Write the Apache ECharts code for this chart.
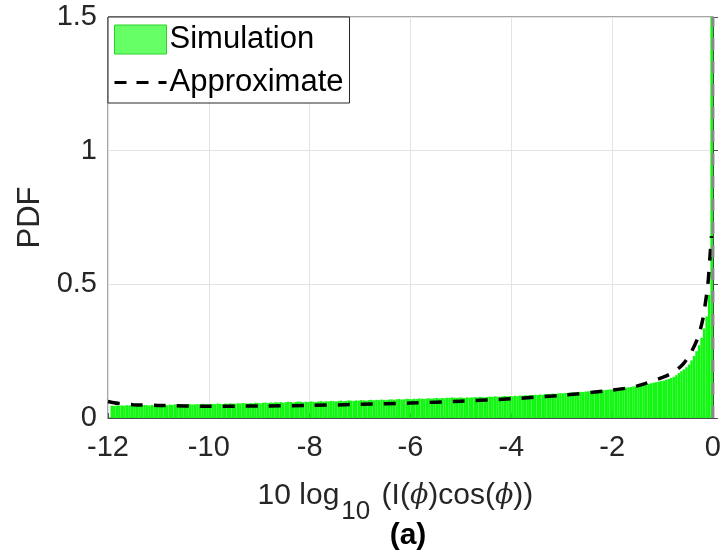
<!DOCTYPE html>
<html>
<head>
<meta charset="utf-8">
<script src="https://cdn.jsdelivr.net/npm/echarts@6/dist/echarts.min.js"></script>
<style>html,body{margin:0;padding:0;background:#fff}#c{width:724px;height:556px}</style>
</head>
<body>
<div id="c"></div>
<script>
// Histogram: bins of width 0.05 from -12 to 0
var binStart = -12;
var binWidth = 0.05;
var simValues = [
  0, 0.046, 0.045, 0.047, 0.046, 0.047, 0.046, 0.048, 0.047, 0.046, 0.048, 0.047, 0.048, 0.047, 0.049, 0.048, 0.047, 0.049, 0.048, 0.049,
  0.048, 0.050, 0.049, 0.048, 0.050, 0.049, 0.051, 0.050, 0.049, 0.051, 0.050, 0.051, 0.052, 0.050, 0.051, 0.052, 0.051, 0.053, 0.052, 0.051,
  0.052, 0.053, 0.052, 0.054, 0.053, 0.052, 0.054, 0.053, 0.055, 0.054, 0.053, 0.055, 0.054, 0.056, 0.055, 0.054, 0.056, 0.055, 0.057, 0.056,
  0.055, 0.057, 0.058, 0.056, 0.058, 0.057, 0.059, 0.058, 0.060, 0.057, 0.059, 0.061, 0.060, 0.058, 0.060, 0.062, 0.061, 0.059, 0.061, 0.060,
  0.062, 0.061, 0.060, 0.062, 0.063, 0.061, 0.063, 0.062, 0.064, 0.063, 0.062, 0.064, 0.065, 0.063, 0.064, 0.066, 0.065, 0.064, 0.066, 0.065,
  0.067, 0.066, 0.065, 0.067, 0.068, 0.066, 0.068, 0.067, 0.069, 0.068, 0.067, 0.069, 0.070, 0.068, 0.070, 0.071, 0.069, 0.070, 0.072, 0.071,
  0.070, 0.072, 0.071, 0.073, 0.072, 0.071, 0.073, 0.074, 0.072, 0.074, 0.075, 0.073, 0.075, 0.074, 0.076, 0.075, 0.077, 0.076, 0.075, 0.077,
  0.076, 0.075, 0.077, 0.076, 0.077, 0.078, 0.077, 0.079, 0.078, 0.077, 0.079, 0.080, 0.079, 0.081, 0.080, 0.079, 0.081, 0.082, 0.081, 0.082,
  0.081, 0.083, 0.082, 0.084, 0.083, 0.085, 0.084, 0.086, 0.085, 0.087, 0.086, 0.088, 0.087, 0.089, 0.090, 0.089, 0.091, 0.090, 0.092, 0.093,
  0.092, 0.094, 0.093, 0.095, 0.096, 0.095, 0.097, 0.098, 0.097, 0.099, 0.100, 0.101, 0.100, 0.102, 0.103, 0.102, 0.104, 0.105, 0.106, 0.107,
  0.107, 0.109, 0.110, 0.111, 0.112, 0.114, 0.115, 0.116, 0.118, 0.119, 0.121, 0.123, 0.124, 0.126, 0.128, 0.130, 0.132, 0.134, 0.136, 0.138,
  0.140, 0.143, 0.146, 0.150, 0.154, 0.160, 0.168, 0.175, 0.182, 0.190, 0.200, 0.215, 0.232, 0.250, 0.272, 0.300, 0.335, 0.380, 0.460, 2.000
];
// Approximate curve
var approxX = [-12, -11.8, -11.5, -11, -10, -9, -8, -7, -6, -5, -4, -3, -2, -1.5, -1, -0.8, -0.6, -0.45, -0.3, -0.2, -0.15, -0.1, -0.06, -0.03];
var approxY = [0.062, 0.055, 0.050, 0.047, 0.044, 0.045, 0.047, 0.051, 0.056, 0.063, 0.072, 0.085, 0.104, 0.120, 0.152, 0.170, 0.200, 0.240, 0.300, 0.370, 0.430, 0.500, 0.600, 0.680];
// The approximate curve's vertical part at x = 0
var edgeX = [0, 0];
var edgeY = [0, 1.5];

var xTicks = [-12, -10, -8, -6, -4, -2, 0];
var yTicks = [0, 0.5, 1, 1.5];

var simData = simValues.map(function (v, i) { return [binStart + (i + 0.5) * binWidth, v]; });
var approxData = approxX.map(function (x, i) { return [x, approxY[i]]; });
var edgeData = edgeX.map(function (x, i) { return [x, edgeY[i]]; });

var FONT = 'Liberation Sans, Arial, Helvetica, sans-serif';
var chart = echarts.init(document.getElementById('c'), null, { renderer: 'canvas' });
chart.setOption({
  animation: false,
  backgroundColor: '#ffffff',
  grid: { left: 108, right: 10, top: 17, bottom: 138, show: true, borderColor: '#4d4d4d', borderWidth: 1, containLabel: false },
  title: {
    text: '(a)', left: 403, top: 516, textAlign: 'center',
    textStyle: { fontFamily: FONT, fontSize: 30, fontWeight: 'bold', color: '#000' }
  },
  legend: {
    orient: 'vertical', left: 108, top: 17,
    backgroundColor: '#fff', borderColor: '#262626', borderWidth: 1, borderRadius: 0,
    padding: [7, 6, 5, 5], itemGap: 12, itemWidth: 52, itemHeight: 29,
    textStyle: { fontFamily: FONT, fontSize: 31, color: '#000', padding: [0, 0, 0, -2] },
    data: [
      { name: 'Simulation', icon: 'rect', itemStyle: { color: '#66ff66', borderColor: '#2bd22b', borderWidth: 1 } },
      { name: 'Approximate', itemStyle: { opacity: 0 }, lineStyle: { color: '#000', width: 3, type: [12, 10] } }
    ]
  },
  xAxis: {
    type: 'value', min: -12, max: 0, interval: 2,
    name: '10 log{sub|10} (I({it|\u03d5})cos({it|\u03d5}))',
    nameLocation: 'middle', nameGap: 40,
    nameTextStyle: {
      fontFamily: FONT, fontSize: 30, color: '#262626', lineHeight: 36, padding: [0, 30, 0, 0],
      rich: {
        sub: { fontFamily: FONT, fontSize: 26, color: '#262626', verticalAlign: 'bottom', lineHeight: 58, padding: [0, 3, 0, 2] },
        it: { fontFamily: 'DejaVu Serif, serif', fontStyle: 'italic', fontSize: 27, color: '#262626' }
      }
    },
    axisLine: { show: true, lineStyle: { color: '#4d4d4d', width: 1 } },
    axisTick: { show: true, inside: true, length: 5, lineStyle: { color: '#4d4d4d' } },
    axisLabel: { fontFamily: FONT, fontSize: 29, color: '#262626', margin: 15,
      formatter: function (v) { return xTicks.indexOf(v) >= 0 ? String(v) : ''; } },
    splitLine: { show: true, lineStyle: { color: '#e3e3e3', width: 1 } }
  },
  yAxis: {
    type: 'value', min: 0, max: 1.5, interval: 0.5,
    name: 'PDF', nameLocation: 'middle', nameGap: 62,
    nameTextStyle: { fontFamily: FONT, fontSize: 31, color: '#262626' },
    axisLine: { show: true, lineStyle: { color: '#4d4d4d', width: 1 } },
    axisTick: { show: true, inside: true, length: 5, lineStyle: { color: '#4d4d4d' } },
    axisLabel: { fontFamily: FONT, fontSize: 29, color: '#262626', margin: 11,
      formatter: function (v) { return yTicks.indexOf(v) >= 0 ? String(v) : ''; } },
    splitLine: { show: true, lineStyle: { color: '#e3e3e3', width: 1 } }
  },
  series: [
    {
      name: 'Simulation', type: 'bar', data: simData, barWidth: '100%', barCategoryGap: '0%',
      itemStyle: { color: '#12f712' }, clip: true, z: 2
    },
    {
      name: 'Approximate', type: 'line', data: approxData, symbol: 'none', smooth: 0.3, clip: true,
      itemStyle: { color: '#000' },
      lineStyle: { color: '#000', width: 3.5, type: [12, 11] }, z: 3
    },
    {
      name: 'edge', type: 'line', data: edgeData, symbol: 'none', clip: false,
      lineStyle: { color: '#8a8a8a', width: 3, type: [12, 11] }, z: 4
    }
  ]
});
</script>
</body>
</html>
